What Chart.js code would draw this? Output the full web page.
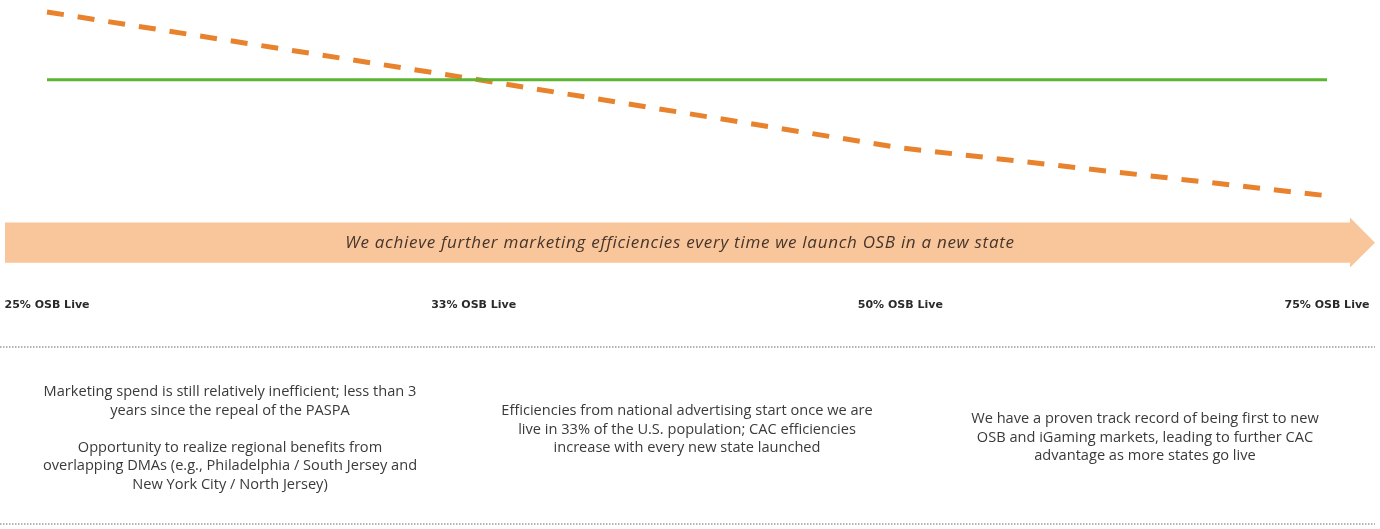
<!DOCTYPE html>
<html>
  <head>
    <meta charset="UTF-8">
    <title>OSB Marketing Efficiencies</title>
    <script src="https://cdn.jsdelivr.net/npm/chart.js"></script>
    <style>
      body {
        margin: 0;
        background: white;
      }

      #wrap {
        position: relative;
        width: 1380px;
        height: 529px;
      }

      .note {
        position: absolute;
        transform: translateX(-50%);
        text-align: center;
        white-space: nowrap;
        font-family: "Open Sans", sans-serif;
        font-size: 14.6px;
        line-height: 18.5px;
        color: #3a3a3a;
      }
    </style>
  </head>
  <body>
    <div id="wrap">
      <canvas id="myChart" width="1380" height="529"></canvas>
      <div class="note" style="left: 230px; top: 381px;">
        Marketing spend is still relatively inefficient; less than 3<br>
        years since the repeal of the PASPA<br>
        <br>
        Opportunity to realize regional benefits from<br>
        overlapping DMAs (e.g., Philadelphia / South Jersey and<br>
        New York City / North Jersey)
      </div>
      <div class="note" style="left: 687px; top: 400px;">
        Efficiencies from national advertising start once we are<br>
        live in 33% of the U.S. population; CAC efficiencies<br>
        increase with every new state launched
      </div>
      <div class="note" style="left: 1145px; top: 408px;">
        We have a proven track record of being first to new<br>
        OSB and iGaming markets, leading to further CAC<br>
        advantage as more states go live
      </div>
    </div>

    <script>
      const stages = ["25% OSB Live", "33% OSB Live", "50% OSB Live", "75% OSB Live"];
      const acquisitionCost = [97.4, 72.5, 46.9, 29.1];
      const benchmark = [72.2, 72.2, 72.2, 72.2];
      const arrowText = "We achieve further marketing efficiencies every time we launch OSB in a new state";

      // big peach arrow under the lines, plus the dotted separators
      const arrowBand = {
        id: "arrowBand",
        beforeDatasetsDraw(chart) {
          const { ctx, scales: { y } } = chart;
          const left = 5, bodyEnd = 1350, tip = 1375;
          const top = y.getPixelForValue(19.1);
          const bottom = y.getPixelForValue(4.2);
          const headTop = y.getPixelForValue(21.0);
          const headBottom = y.getPixelForValue(2.4);
          const mid = (top + bottom) / 2;

          ctx.save();
          ctx.fillStyle = "#f9c59b";
          ctx.beginPath();
          ctx.moveTo(left, top);
          ctx.lineTo(bodyEnd, top);
          ctx.lineTo(bodyEnd, headTop);
          ctx.lineTo(tip, mid);
          ctx.lineTo(bodyEnd, headBottom);
          ctx.lineTo(bodyEnd, bottom);
          ctx.lineTo(left, bottom);
          ctx.closePath();
          ctx.fill();

          ctx.fillStyle = "#45362c";
          ctx.font = "italic 17px 'Open Sans', sans-serif";
          ctx.letterSpacing = "0.7px";
          ctx.textAlign = "center";
          ctx.textBaseline = "middle";
          ctx.fillText(arrowText, 680, mid);
          ctx.letterSpacing = "0px";

          ctx.strokeStyle = "#9c9c9c";
          ctx.lineWidth = 1.5;
          ctx.setLineDash([1.5, 1.5]);
          [347, 524].forEach(function (py) {
            ctx.beginPath();
            ctx.moveTo(0, py);
            ctx.lineTo(1375, py);
            ctx.stroke();
          });
          ctx.restore();
        }
      };

      const ctx = document.getElementById("myChart").getContext("2d");
      const myChart = new Chart(ctx, {
        type: "line",
        data: {
          labels: stages,
          datasets: [
            {
              label: "Benchmark",
              data: benchmark,
              borderColor: "#5cb531",
              borderWidth: 3,
              pointRadius: 0,
              tension: 0
            },
            {
              label: "CAC",
              data: acquisitionCost,
              borderColor: "#e8822c",
              borderWidth: 5,
              borderDash: [17, 14],
              pointRadius: 0,
              tension: 0
            }
          ]
        },
        options: {
          responsive: false,
          animation: false,
          layout: {
            padding: { left: 47, right: 53, top: 5, bottom: 217 }
          },
          scales: {
            x: {
              offset: false,
              grid: { display: false, drawTicks: false },
              border: { display: false },
              // keep the plot edges on the layout padding, labels sit 25px below
              afterFit: function (scale) {
                scale.paddingLeft = 0;
                scale.paddingRight = 0;
                scale.height = 38;
              },
              ticks: {
                padding: 25,
                maxRotation: 0,
                autoSkip: false,
                color: "#2a2a2a",
                font: {
                  family: "'DejaVu Sans', sans-serif",
                  size: 11,
                  weight: "bold"
                }
              }
            },
            y: {
              display: false,
              min: 0,
              max: 100
            }
          },
          plugins: {
            legend: { display: false },
            tooltip: { enabled: false }
          }
        },
        plugins: [arrowBand]
      });
    </script>
  </body>
</html>
